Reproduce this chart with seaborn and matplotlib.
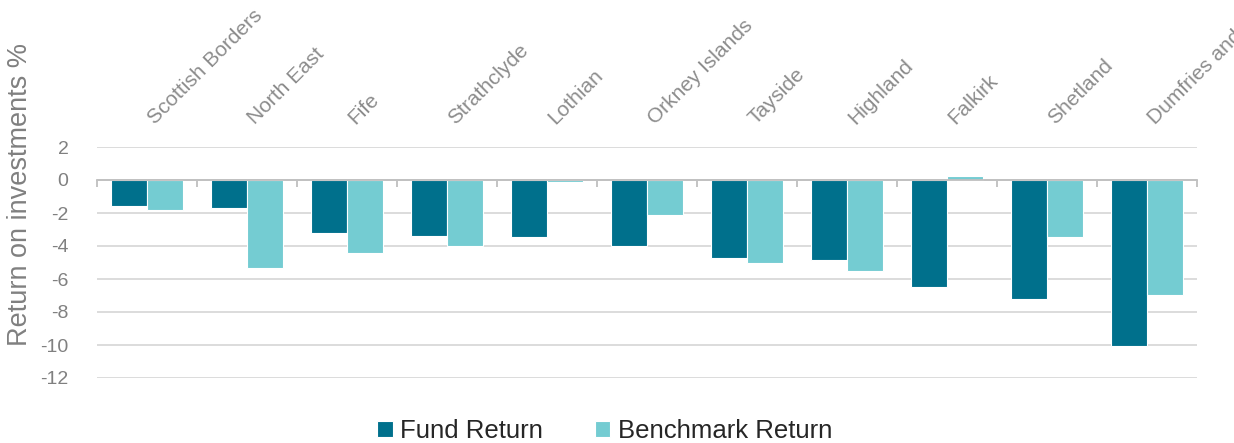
import pandas as pd
import matplotlib.pyplot as plt
import seaborn as sns
from matplotlib.ticker import FixedLocator
from matplotlib.transforms import ScaledTranslation

# Data
regions = ['Scottish Borders', 'North East', 'Fife', 'Strathclyde', 'Lothian',
           'Orkney Islands', 'Tayside', 'Highland', 'Falkirk', 'Shetland',
           'Dumfries and Galloway']
fund_return = [-1.56, -1.72, -3.24, -3.38, -3.46, -4.03, -4.72, -4.82, -6.48, -7.2, -10.06]
benchmark_return = [-1.8, -5.36, -4.41, -4.03, -0.12, -2.1, -5.06, -5.53, 0.24, -3.46, -6.94]
series = ['Fund Return', 'Benchmark Return']
colors = ['#00708C', '#74CCD2']

df = pd.DataFrame({
    'region': regions * 2,
    'value': fund_return + benchmark_return,
    'series': [series[0]] * len(regions) + [series[1]] * len(regions),
})

sns.set_style('white')
plt.rcParams['font.family'] = ['Liberation Sans', 'DejaVu Sans']
plt.rcParams['axes.unicode_minus'] = False

fig = plt.figure(figsize=(12.34, 4.43), dpi=100)
ax = fig.add_axes([97 / 1234, 1 - 378 / 443, 1100 / 1234, 231 / 443])

sns.barplot(data=df, x='region', y='value', hue='series', palette=colors,
            saturation=1, width=0.72, edgecolor='white', linewidth=0.8, ax=ax)

ax.set_ylim(-12, 2)
ax.set_xlim(-0.5, len(regions) - 0.5)
ax.set_yticks(range(-12, 3, 2))
ax.yaxis.grid(True, color='#D9D9D9', linewidth=1.3)
ax.set_axisbelow(True)
ax.set_xlabel('')
ax.set_ylabel('')

for s in ['left', 'right', 'top']:
    ax.spines[s].set_visible(False)
ax.spines['bottom'].set_position(('data', 0))
ax.spines['bottom'].set_color('#BFBFBF')
ax.spines['bottom'].set_linewidth(1.3)

# category boundary ticks on the zero line
ax.xaxis.set_minor_locator(FixedLocator([i - 0.5 for i in range(len(regions) + 1)]))
ax.tick_params(axis='x', which='minor', bottom=True, direction='out',
               length=5, width=1.3, color='#BFBFBF')
ax.tick_params(axis='x', which='major', bottom=False, top=False,
               labelbottom=False, labeltop=True, labelsize=15,
               labelcolor='#8C8C8C', pad=10)
shift = ScaledTranslation(8 / 72, 0, fig.dpi_scale_trans)
for lbl in ax.get_xticklabels():
    lbl.set_rotation(45)
    lbl.set_ha('left')
    lbl.set_va('bottom')
    lbl.set_rotation_mode('anchor')
    lbl.set_transform(lbl.get_transform() + shift)
ax.tick_params(axis='y', left=False, labelsize=14, labelcolor='#808080', pad=17)

fig.text(20 / 1234, 1 - 195 / 443, 'Return on investments %', rotation=90,
         ha='center', va='center', fontsize=19.5, color='#808080')

handles, labels = ax.get_legend_handles_labels()
ax.legend(handles, labels, loc='center', bbox_to_anchor=(0.49, 1 - 431 / 443),
          bbox_transform=fig.transFigure, ncol=2, frameon=False, fontsize=18.5,
          handlelength=0.6, handleheight=0.6, handletextpad=0.3, columnspacing=2.0)

fig.savefig('out.png', dpi=100)
